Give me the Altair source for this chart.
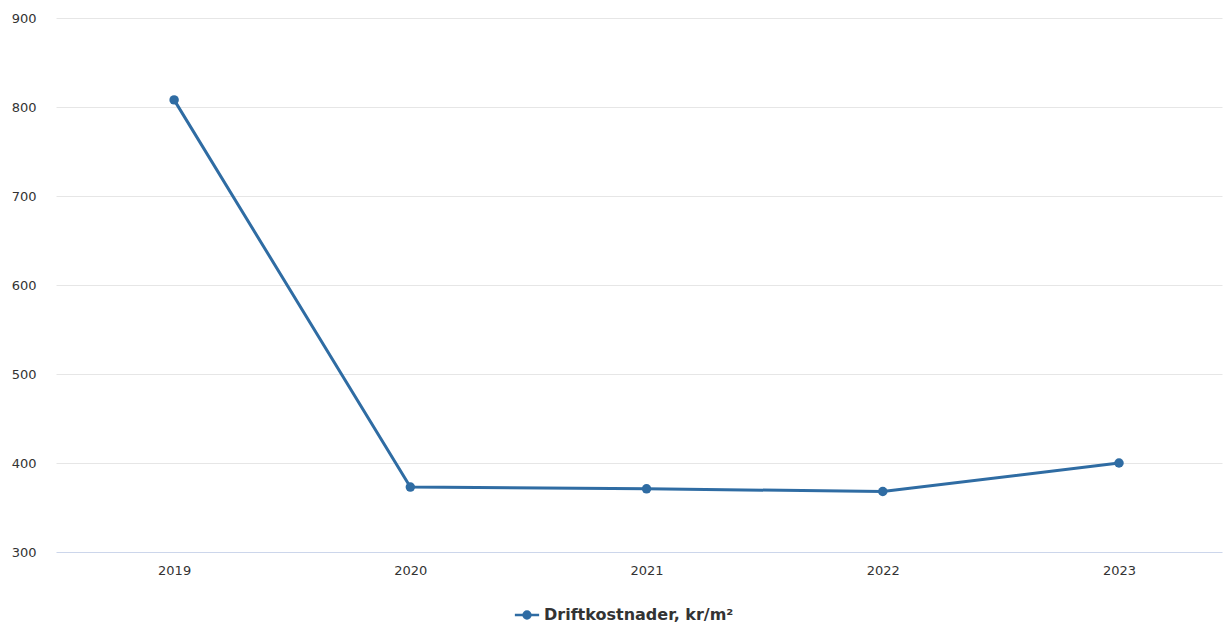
import altair as alt
import pandas as pd

years = [2019, 2020, 2021, 2022, 2023]
values = [808, 373, 371, 368, 400]
series = ["Driftkostnader, kr/m²"] * 5

df = pd.DataFrame({"year": years, "value": values, "series": series})

color = "#2f6ca3"
yscale = alt.Scale(domain=[300, 900], nice=False, zero=False)
FONT = "DejaVu Sans"

legend_symbol = "M-1.6,0L1.6,0M0.45,0A0.45,0.45,0,1,1,-0.45,0A0.45,0.45,0,1,1,0.45,0Z"

base = alt.Chart(df).encode(
    x=alt.X("year:Q", title=None,
            scale=alt.Scale(domain=[2018.5, 2023.436], nice=False, zero=False),
            axis=alt.Axis(values=years, format="d", labelAngle=0, domain=False, ticks=False, grid=False,
                          labelFontSize=13, labelColor="#333333", labelPadding=12,
                          labelFont=FONT)),
    y=alt.Y("value:Q", title=None, scale=yscale,
            axis=alt.Axis(values=[300, 400, 500, 600, 700, 800, 900], domain=False, ticks=False,
                          gridColor=alt.condition("datum.value == 300", alt.value("#ccd6eb"), alt.value("#e6e6e6")),
                          gridWidth=1,
                          labelFontSize=13, labelColor="#333333", labelPadding=20,
                          labelFont=FONT)),
    color=alt.Color("series:N", scale=alt.Scale(range=[color]),
                    legend=alt.Legend(title=None, orient="none", legendX=462, legendY=588,
                                      labelFontSize=16, labelFontWeight="bold",
                                      labelColor="#333333", labelFont=FONT, labelLimit=0,
                                      symbolType=legend_symbol, symbolSize=230,
                                      symbolStrokeWidth=2.5, symbolFillColor=color,
                                      symbolStrokeColor=color, labelOffset=8)),
)

line = base.mark_line(strokeWidth=3)
points = base.mark_point(filled=True, size=90, opacity=1)

chart = alt.layer(line, points).properties(
    width=1166, height=534,
    background="white",
    autosize=alt.AutoSizeParams(type="none"),
    padding={"left": 56, "top": 18, "right": 2, "bottom": 71},
).configure_view(stroke=None)

chart.save("out.html", embed_options={"renderer": "svg", "actions": False})
